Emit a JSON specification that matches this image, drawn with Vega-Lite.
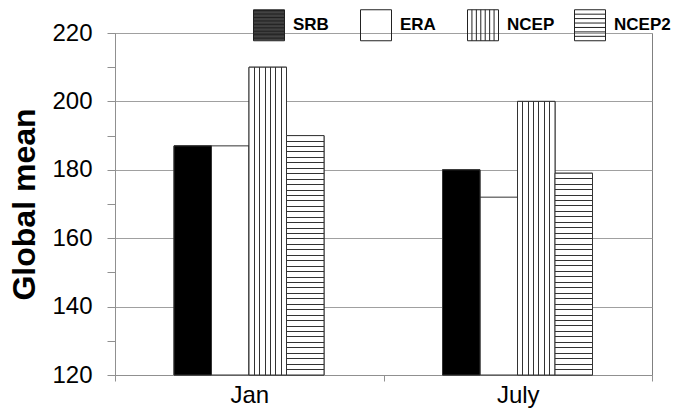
{
  "$schema": "https://vega.github.io/schema/vega-lite/v6.json",
  "width": 537,
  "height": 342,
  "autosize": {"type": "none"},
  "padding": {"left": 115, "top": 33, "right": 21, "bottom": 37},
  "background": "white",
  "config": {
    "view": {"stroke": "#808080", "strokeWidth": 1},
    "font": "Liberation Sans"
  },
  "data": {
    "values": [
      {"month": "Jan", "series": "SRB", "value": 187},
      {"month": "Jan", "series": "ERA", "value": 187},
      {"month": "Jan", "series": "NCEP", "value": 210},
      {"month": "Jan", "series": "NCEP2", "value": 190},
      {"month": "July", "series": "SRB", "value": 180},
      {"month": "July", "series": "ERA", "value": 172},
      {"month": "July", "series": "NCEP", "value": 200},
      {"month": "July", "series": "NCEP2", "value": 179}
    ]
  },
  "encoding": {
    "x": {
      "field": "month",
      "type": "nominal",
      "sort": ["Jan", "July"],
      "scale": {"paddingInner": 0, "paddingOuter": 0},
      "axis": {
        "title": null,
        "labelAngle": 0,
        "labelFont": "Liberation Sans",
        "labelFontSize": 24,
        "labelColor": "#000000",
        "labelPadding": 2,
        "tickBand": "extent",
        "tickSize": 6,
        "tickColor": "#909090",
        "domainColor": "#909090"
      }
    },
    "xOffset": {
      "field": "series",
      "type": "nominal",
      "sort": ["SRB", "ERA", "NCEP", "NCEP2"],
      "scale": {"paddingInner": 0, "paddingOuter": 0, "range": [59, 209]}
    },
    "y": {
      "field": "value",
      "type": "quantitative",
      "scale": {"domain": [120, 220], "zero": false, "nice": false},
      "axis": {
        "title": "Global mean",
        "titleFont": "Liberation Sans",
        "titleFontSize": 32,
        "titleFontWeight": "bold",
        "titleColor": "#000000",
        "titlePadding": 10,
        "values": [120, 130, 140, 150, 160, 170, 180, 190, 200, 210, 220],
        "labelExpr": "datum.value % 20 === 0 ? datum.label : ''",
        "labelFont": "Liberation Sans",
        "labelFontSize": 24,
        "labelColor": "#000000",
        "labelPadding": 15,
        "tickSize": 8,
        "tickColor": "#909090",
        "domainColor": "#909090",
        "grid": true,
        "gridColor": "#a0a0a0",
        "gridOpacity": {"condition": {"test": "datum.value % 20 === 0", "value": 1}, "value": 0}
      }
    }
  },
  "layer": [
    {
      "mark": {"type": "point", "filled": false, "color": "#222222", "strokeWidth": 1, "size": 961},
      "encoding": {
        "y": {"datum": 150},
        "shape": {
          "field": "series",
          "type": "nominal",
          "scale": {
            "domain": ["SRB", "ERA", "NCEP", "NCEP2"],
            "range": [
              "M-1,-1H1V1H-1Z M-1,-0.95H1 M-1,-0.9H1 M-1,-0.85H1 M-1,-0.8H1 M-1,-0.75H1 M-1,-0.7H1 M-1,-0.65H1 M-1,-0.6H1 M-1,-0.55H1 M-1,-0.5H1 M-1,-0.45H1 M-1,-0.4H1 M-1,-0.35H1 M-1,-0.3H1 M-1,-0.25H1 M-1,-0.2H1 M-1,-0.15H1 M-1,-0.1H1 M-1,-0.05H1 M-1,0H1 M-1,0.05H1 M-1,0.1H1 M-1,0.15H1 M-1,0.2H1 M-1,0.25H1 M-1,0.3H1 M-1,0.35H1 M-1,0.4H1 M-1,0.45H1 M-1,0.5H1 M-1,0.55H1 M-1,0.6H1 M-1,0.65H1 M-1,0.7H1 M-1,0.75H1 M-1,0.8H1 M-1,0.85H1 M-1,0.9H1 M-1,0.95H1",
              "M-1,-1H1V1H-1Z",
              "M-1,-1H1V1H-1Z M-0.714,-1V1 M-0.429,-1V1 M-0.143,-1V1 M0.143,-1V1 M0.429,-1V1 M0.714,-1V1",
              "M-1,-1H1V1H-1Z M-1,-0.714H1 M-1,-0.429H1 M-1,-0.143H1 M-1,0.143H1 M-1,0.429H1 M-1,0.714H1"
            ]
          },
          "legend": {
            "title": null,
            "orient": "none",
            "legendX": 138,
            "legendY": -24,
            "direction": "horizontal",
            "columns": 4,
            "gridAlign": "all",
            "columnPadding": 8,
            "padding": 0,
            "symbolSize": 961,
            "symbolFillColor": "#ffffff",
            "symbolStrokeColor": "#222222",
            "symbolStrokeWidth": 1,
            "symbolOpacity": 1,
            "labelOffset": 8,
            "labelFont": "Liberation Sans",
            "labelFontSize": 17,
            "labelFontWeight": "bold",
            "labelColor": "#000000"
          }
        }
      }
    },
    {
      "mark": {"type": "bar", "fill": "#ffffff", "stroke": "#333333", "strokeWidth": 1},
      "encoding": {"y2": {"datum": 120}}
    },
    {
      "transform": [{"filter": "datum.series === 'SRB'"}],
      "mark": {"type": "bar", "fill": "#000000", "stroke": "#333333", "strokeWidth": 1},
      "encoding": {"y2": {"datum": 120}}
    },
    {
      "transform": [{"filter": "datum.series === 'NCEP'"}],
      "mark": {"type": "bar", "stroke": "#333333", "strokeWidth": 1,
        "fill": {"gradient": "linear", "x1": 0, "y1": 0, "x2": 1, "y2": 0, "stops": [
          {"offset": 0, "color": "#fff"},
          {"offset": 0.129, "color": "#fff"}, {"offset": 0.129, "color": "#333"}, {"offset": 0.157, "color": "#333"}, {"offset": 0.157, "color": "#fff"},
          {"offset": 0.272, "color": "#fff"}, {"offset": 0.272, "color": "#333"}, {"offset": 0.300, "color": "#333"}, {"offset": 0.300, "color": "#fff"},
          {"offset": 0.415, "color": "#fff"}, {"offset": 0.415, "color": "#333"}, {"offset": 0.443, "color": "#333"}, {"offset": 0.443, "color": "#fff"},
          {"offset": 0.557, "color": "#fff"}, {"offset": 0.557, "color": "#333"}, {"offset": 0.585, "color": "#333"}, {"offset": 0.585, "color": "#fff"},
          {"offset": 0.700, "color": "#fff"}, {"offset": 0.700, "color": "#333"}, {"offset": 0.728, "color": "#333"}, {"offset": 0.728, "color": "#fff"},
          {"offset": 0.843, "color": "#fff"}, {"offset": 0.843, "color": "#333"}, {"offset": 0.871, "color": "#333"}, {"offset": 0.871, "color": "#fff"},
          {"offset": 1, "color": "#fff"}
        ]}
      },
      "encoding": {"y2": {"datum": 120}}
    },
    {
      "transform": [{"filter": "datum.series === 'NCEP2' && datum.month === 'Jan'"}],
      "mark": {"type": "bar", "stroke": "#333333", "strokeWidth": 1,
        "fill": {"gradient": "linear", "x1": 0, "y1": 0, "x2": 0, "y2": 1, "stops": [
          {"offset": 0, "color": "#fff"},
          {"offset": 0.0206, "color": "#fff"}, {"offset": 0.0206, "color": "#333"}, {"offset": 0.0248, "color": "#333"}, {"offset": 0.0248, "color": "#fff"},
          {"offset": 0.0434, "color": "#fff"}, {"offset": 0.0434, "color": "#333"}, {"offset": 0.0476, "color": "#333"}, {"offset": 0.0476, "color": "#fff"},
          {"offset": 0.0661, "color": "#fff"}, {"offset": 0.0661, "color": "#333"}, {"offset": 0.0703, "color": "#333"}, {"offset": 0.0703, "color": "#fff"},
          {"offset": 0.0888, "color": "#fff"}, {"offset": 0.0888, "color": "#333"}, {"offset": 0.0930, "color": "#333"}, {"offset": 0.0930, "color": "#fff"},
          {"offset": 0.1115, "color": "#fff"}, {"offset": 0.1115, "color": "#333"}, {"offset": 0.1157, "color": "#333"}, {"offset": 0.1157, "color": "#fff"},
          {"offset": 0.1343, "color": "#fff"}, {"offset": 0.1343, "color": "#333"}, {"offset": 0.1385, "color": "#333"}, {"offset": 0.1385, "color": "#fff"},
          {"offset": 0.1570, "color": "#fff"}, {"offset": 0.1570, "color": "#333"}, {"offset": 0.1612, "color": "#333"}, {"offset": 0.1612, "color": "#fff"},
          {"offset": 0.1797, "color": "#fff"}, {"offset": 0.1797, "color": "#333"}, {"offset": 0.1839, "color": "#333"}, {"offset": 0.1839, "color": "#fff"},
          {"offset": 0.2024, "color": "#fff"}, {"offset": 0.2024, "color": "#333"}, {"offset": 0.2066, "color": "#333"}, {"offset": 0.2066, "color": "#fff"},
          {"offset": 0.2252, "color": "#fff"}, {"offset": 0.2252, "color": "#333"}, {"offset": 0.2294, "color": "#333"}, {"offset": 0.2294, "color": "#fff"},
          {"offset": 0.2479, "color": "#fff"}, {"offset": 0.2479, "color": "#333"}, {"offset": 0.2521, "color": "#333"}, {"offset": 0.2521, "color": "#fff"},
          {"offset": 0.2706, "color": "#fff"}, {"offset": 0.2706, "color": "#333"}, {"offset": 0.2748, "color": "#333"}, {"offset": 0.2748, "color": "#fff"},
          {"offset": 0.2934, "color": "#fff"}, {"offset": 0.2934, "color": "#333"}, {"offset": 0.2976, "color": "#333"}, {"offset": 0.2976, "color": "#fff"},
          {"offset": 0.3161, "color": "#fff"}, {"offset": 0.3161, "color": "#333"}, {"offset": 0.3203, "color": "#333"}, {"offset": 0.3203, "color": "#fff"},
          {"offset": 0.3388, "color": "#fff"}, {"offset": 0.3388, "color": "#333"}, {"offset": 0.3430, "color": "#333"}, {"offset": 0.3430, "color": "#fff"},
          {"offset": 0.3615, "color": "#fff"}, {"offset": 0.3615, "color": "#333"}, {"offset": 0.3657, "color": "#333"}, {"offset": 0.3657, "color": "#fff"},
          {"offset": 0.3843, "color": "#fff"}, {"offset": 0.3843, "color": "#333"}, {"offset": 0.3885, "color": "#333"}, {"offset": 0.3885, "color": "#fff"},
          {"offset": 0.4070, "color": "#fff"}, {"offset": 0.4070, "color": "#333"}, {"offset": 0.4112, "color": "#333"}, {"offset": 0.4112, "color": "#fff"},
          {"offset": 0.4297, "color": "#fff"}, {"offset": 0.4297, "color": "#333"}, {"offset": 0.4339, "color": "#333"}, {"offset": 0.4339, "color": "#fff"},
          {"offset": 0.4524, "color": "#fff"}, {"offset": 0.4524, "color": "#333"}, {"offset": 0.4566, "color": "#333"}, {"offset": 0.4566, "color": "#fff"},
          {"offset": 0.4752, "color": "#fff"}, {"offset": 0.4752, "color": "#333"}, {"offset": 0.4794, "color": "#333"}, {"offset": 0.4794, "color": "#fff"},
          {"offset": 0.4979, "color": "#fff"}, {"offset": 0.4979, "color": "#333"}, {"offset": 0.5021, "color": "#333"}, {"offset": 0.5021, "color": "#fff"},
          {"offset": 0.5206, "color": "#fff"}, {"offset": 0.5206, "color": "#333"}, {"offset": 0.5248, "color": "#333"}, {"offset": 0.5248, "color": "#fff"},
          {"offset": 0.5434, "color": "#fff"}, {"offset": 0.5434, "color": "#333"}, {"offset": 0.5476, "color": "#333"}, {"offset": 0.5476, "color": "#fff"},
          {"offset": 0.5661, "color": "#fff"}, {"offset": 0.5661, "color": "#333"}, {"offset": 0.5703, "color": "#333"}, {"offset": 0.5703, "color": "#fff"},
          {"offset": 0.5888, "color": "#fff"}, {"offset": 0.5888, "color": "#333"}, {"offset": 0.5930, "color": "#333"}, {"offset": 0.5930, "color": "#fff"},
          {"offset": 0.6115, "color": "#fff"}, {"offset": 0.6115, "color": "#333"}, {"offset": 0.6157, "color": "#333"}, {"offset": 0.6157, "color": "#fff"},
          {"offset": 0.6343, "color": "#fff"}, {"offset": 0.6343, "color": "#333"}, {"offset": 0.6385, "color": "#333"}, {"offset": 0.6385, "color": "#fff"},
          {"offset": 0.6570, "color": "#fff"}, {"offset": 0.6570, "color": "#333"}, {"offset": 0.6612, "color": "#333"}, {"offset": 0.6612, "color": "#fff"},
          {"offset": 0.6797, "color": "#fff"}, {"offset": 0.6797, "color": "#333"}, {"offset": 0.6839, "color": "#333"}, {"offset": 0.6839, "color": "#fff"},
          {"offset": 0.7024, "color": "#fff"}, {"offset": 0.7024, "color": "#333"}, {"offset": 0.7066, "color": "#333"}, {"offset": 0.7066, "color": "#fff"},
          {"offset": 0.7252, "color": "#fff"}, {"offset": 0.7252, "color": "#333"}, {"offset": 0.7294, "color": "#333"}, {"offset": 0.7294, "color": "#fff"},
          {"offset": 0.7479, "color": "#fff"}, {"offset": 0.7479, "color": "#333"}, {"offset": 0.7521, "color": "#333"}, {"offset": 0.7521, "color": "#fff"},
          {"offset": 0.7706, "color": "#fff"}, {"offset": 0.7706, "color": "#333"}, {"offset": 0.7748, "color": "#333"}, {"offset": 0.7748, "color": "#fff"},
          {"offset": 0.7934, "color": "#fff"}, {"offset": 0.7934, "color": "#333"}, {"offset": 0.7976, "color": "#333"}, {"offset": 0.7976, "color": "#fff"},
          {"offset": 0.8161, "color": "#fff"}, {"offset": 0.8161, "color": "#333"}, {"offset": 0.8203, "color": "#333"}, {"offset": 0.8203, "color": "#fff"},
          {"offset": 0.8388, "color": "#fff"}, {"offset": 0.8388, "color": "#333"}, {"offset": 0.8430, "color": "#333"}, {"offset": 0.8430, "color": "#fff"},
          {"offset": 0.8615, "color": "#fff"}, {"offset": 0.8615, "color": "#333"}, {"offset": 0.8657, "color": "#333"}, {"offset": 0.8657, "color": "#fff"},
          {"offset": 0.8843, "color": "#fff"}, {"offset": 0.8843, "color": "#333"}, {"offset": 0.8885, "color": "#333"}, {"offset": 0.8885, "color": "#fff"},
          {"offset": 0.9070, "color": "#fff"}, {"offset": 0.9070, "color": "#333"}, {"offset": 0.9112, "color": "#333"}, {"offset": 0.9112, "color": "#fff"},
          {"offset": 0.9297, "color": "#fff"}, {"offset": 0.9297, "color": "#333"}, {"offset": 0.9339, "color": "#333"}, {"offset": 0.9339, "color": "#fff"},
          {"offset": 0.9524, "color": "#fff"}, {"offset": 0.9524, "color": "#333"}, {"offset": 0.9566, "color": "#333"}, {"offset": 0.9566, "color": "#fff"},
          {"offset": 0.9752, "color": "#fff"}, {"offset": 0.9752, "color": "#333"}, {"offset": 0.9794, "color": "#333"}, {"offset": 0.9794, "color": "#fff"},
          {"offset": 1, "color": "#fff"}
        ]}
      },
      "encoding": {"y2": {"datum": 120}}
    },
    {
      "transform": [{"filter": "datum.series === 'NCEP2' && datum.month === 'July'"}],
      "mark": {"type": "bar", "stroke": "#333333", "strokeWidth": 1,
        "fill": {"gradient": "linear", "x1": 0, "y1": 0, "x2": 0, "y2": 1, "stops": [
          {"offset": 0, "color": "#fff"},
          {"offset": 0.0245, "color": "#fff"}, {"offset": 0.0245, "color": "#333"}, {"offset": 0.0295, "color": "#333"}, {"offset": 0.0295, "color": "#fff"},
          {"offset": 0.0516, "color": "#fff"}, {"offset": 0.0516, "color": "#333"}, {"offset": 0.0566, "color": "#333"}, {"offset": 0.0566, "color": "#fff"},
          {"offset": 0.0786, "color": "#fff"}, {"offset": 0.0786, "color": "#333"}, {"offset": 0.0836, "color": "#333"}, {"offset": 0.0836, "color": "#fff"},
          {"offset": 0.1056, "color": "#fff"}, {"offset": 0.1056, "color": "#333"}, {"offset": 0.1106, "color": "#333"}, {"offset": 0.1106, "color": "#fff"},
          {"offset": 0.1326, "color": "#fff"}, {"offset": 0.1326, "color": "#333"}, {"offset": 0.1376, "color": "#333"}, {"offset": 0.1376, "color": "#fff"},
          {"offset": 0.1597, "color": "#fff"}, {"offset": 0.1597, "color": "#333"}, {"offset": 0.1647, "color": "#333"}, {"offset": 0.1647, "color": "#fff"},
          {"offset": 0.1867, "color": "#fff"}, {"offset": 0.1867, "color": "#333"}, {"offset": 0.1917, "color": "#333"}, {"offset": 0.1917, "color": "#fff"},
          {"offset": 0.2137, "color": "#fff"}, {"offset": 0.2137, "color": "#333"}, {"offset": 0.2187, "color": "#333"}, {"offset": 0.2187, "color": "#fff"},
          {"offset": 0.2407, "color": "#fff"}, {"offset": 0.2407, "color": "#333"}, {"offset": 0.2457, "color": "#333"}, {"offset": 0.2457, "color": "#fff"},
          {"offset": 0.2678, "color": "#fff"}, {"offset": 0.2678, "color": "#333"}, {"offset": 0.2728, "color": "#333"}, {"offset": 0.2728, "color": "#fff"},
          {"offset": 0.2948, "color": "#fff"}, {"offset": 0.2948, "color": "#333"}, {"offset": 0.2998, "color": "#333"}, {"offset": 0.2998, "color": "#fff"},
          {"offset": 0.3218, "color": "#fff"}, {"offset": 0.3218, "color": "#333"}, {"offset": 0.3268, "color": "#333"}, {"offset": 0.3268, "color": "#fff"},
          {"offset": 0.3489, "color": "#fff"}, {"offset": 0.3489, "color": "#333"}, {"offset": 0.3539, "color": "#333"}, {"offset": 0.3539, "color": "#fff"},
          {"offset": 0.3759, "color": "#fff"}, {"offset": 0.3759, "color": "#333"}, {"offset": 0.3809, "color": "#333"}, {"offset": 0.3809, "color": "#fff"},
          {"offset": 0.4029, "color": "#fff"}, {"offset": 0.4029, "color": "#333"}, {"offset": 0.4079, "color": "#333"}, {"offset": 0.4079, "color": "#fff"},
          {"offset": 0.4299, "color": "#fff"}, {"offset": 0.4299, "color": "#333"}, {"offset": 0.4349, "color": "#333"}, {"offset": 0.4349, "color": "#fff"},
          {"offset": 0.4570, "color": "#fff"}, {"offset": 0.4570, "color": "#333"}, {"offset": 0.4620, "color": "#333"}, {"offset": 0.4620, "color": "#fff"},
          {"offset": 0.4840, "color": "#fff"}, {"offset": 0.4840, "color": "#333"}, {"offset": 0.4890, "color": "#333"}, {"offset": 0.4890, "color": "#fff"},
          {"offset": 0.5110, "color": "#fff"}, {"offset": 0.5110, "color": "#333"}, {"offset": 0.5160, "color": "#333"}, {"offset": 0.5160, "color": "#fff"},
          {"offset": 0.5380, "color": "#fff"}, {"offset": 0.5380, "color": "#333"}, {"offset": 0.5430, "color": "#333"}, {"offset": 0.5430, "color": "#fff"},
          {"offset": 0.5651, "color": "#fff"}, {"offset": 0.5651, "color": "#333"}, {"offset": 0.5701, "color": "#333"}, {"offset": 0.5701, "color": "#fff"},
          {"offset": 0.5921, "color": "#fff"}, {"offset": 0.5921, "color": "#333"}, {"offset": 0.5971, "color": "#333"}, {"offset": 0.5971, "color": "#fff"},
          {"offset": 0.6191, "color": "#fff"}, {"offset": 0.6191, "color": "#333"}, {"offset": 0.6241, "color": "#333"}, {"offset": 0.6241, "color": "#fff"},
          {"offset": 0.6461, "color": "#fff"}, {"offset": 0.6461, "color": "#333"}, {"offset": 0.6511, "color": "#333"}, {"offset": 0.6511, "color": "#fff"},
          {"offset": 0.6732, "color": "#fff"}, {"offset": 0.6732, "color": "#333"}, {"offset": 0.6782, "color": "#333"}, {"offset": 0.6782, "color": "#fff"},
          {"offset": 0.7002, "color": "#fff"}, {"offset": 0.7002, "color": "#333"}, {"offset": 0.7052, "color": "#333"}, {"offset": 0.7052, "color": "#fff"},
          {"offset": 0.7272, "color": "#fff"}, {"offset": 0.7272, "color": "#333"}, {"offset": 0.7322, "color": "#333"}, {"offset": 0.7322, "color": "#fff"},
          {"offset": 0.7543, "color": "#fff"}, {"offset": 0.7543, "color": "#333"}, {"offset": 0.7593, "color": "#333"}, {"offset": 0.7593, "color": "#fff"},
          {"offset": 0.7813, "color": "#fff"}, {"offset": 0.7813, "color": "#333"}, {"offset": 0.7863, "color": "#333"}, {"offset": 0.7863, "color": "#fff"},
          {"offset": 0.8083, "color": "#fff"}, {"offset": 0.8083, "color": "#333"}, {"offset": 0.8133, "color": "#333"}, {"offset": 0.8133, "color": "#fff"},
          {"offset": 0.8353, "color": "#fff"}, {"offset": 0.8353, "color": "#333"}, {"offset": 0.8403, "color": "#333"}, {"offset": 0.8403, "color": "#fff"},
          {"offset": 0.8624, "color": "#fff"}, {"offset": 0.8624, "color": "#333"}, {"offset": 0.8674, "color": "#333"}, {"offset": 0.8674, "color": "#fff"},
          {"offset": 0.8894, "color": "#fff"}, {"offset": 0.8894, "color": "#333"}, {"offset": 0.8944, "color": "#333"}, {"offset": 0.8944, "color": "#fff"},
          {"offset": 0.9164, "color": "#fff"}, {"offset": 0.9164, "color": "#333"}, {"offset": 0.9214, "color": "#333"}, {"offset": 0.9214, "color": "#fff"},
          {"offset": 0.9434, "color": "#fff"}, {"offset": 0.9434, "color": "#333"}, {"offset": 0.9484, "color": "#333"}, {"offset": 0.9484, "color": "#fff"},
          {"offset": 0.9705, "color": "#fff"}, {"offset": 0.9705, "color": "#333"}, {"offset": 0.9755, "color": "#333"}, {"offset": 0.9755, "color": "#fff"},
          {"offset": 1, "color": "#fff"}
        ]}
      },
      "encoding": {"y2": {"datum": 120}}
    }
  ]
}
